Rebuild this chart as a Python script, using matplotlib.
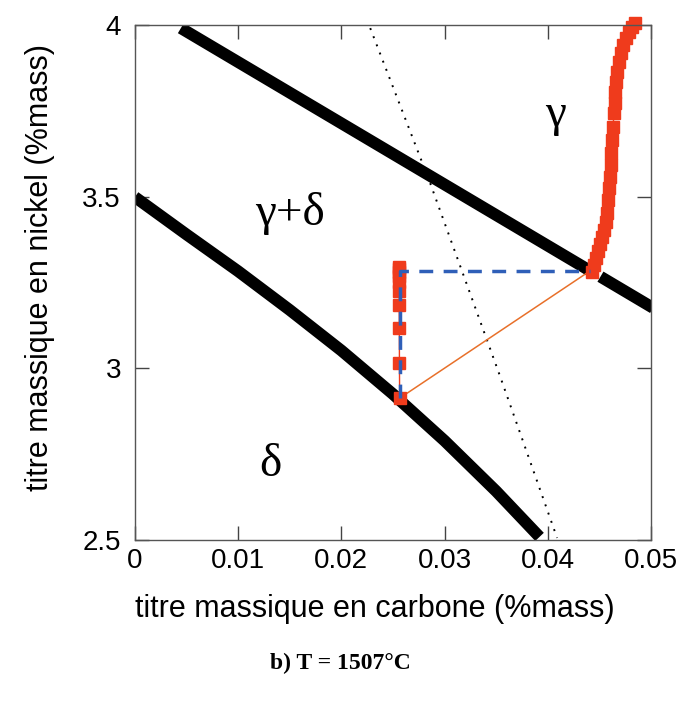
import matplotlib.pyplot as plt

# limites de phase (frontieres epaisses)
haut_x = [0.00446, 0.0441]
haut_y = [3.991, 3.284]
haut2_x = [0.0451, 0.0502]
haut2_y = [3.267, 3.176]

bas_x = [0.0, 0.005, 0.010, 0.015, 0.020, 0.025, 0.030, 0.035, 0.0392]
bas_y = [3.499, 3.390, 3.283, 3.170, 3.052, 2.925, 2.789, 2.642, 2.509]

# ligne pointillee
pointille_x = [0.0228, 0.0286, 0.0354, 0.0409]
pointille_y = [3.991, 3.540, 2.975, 2.506]

# trajectoire delta (carres rouges, verticale)
delta_x = [0.02565, 0.02563, 0.02562, 0.02561, 0.02560, 0.02560, 0.02560, 0.02560, 0.02560, 0.02560]
delta_y = [2.913, 3.015, 3.117, 3.185, 3.225, 3.252, 3.270, 3.282, 3.290, 3.295]

# trajectoire gamma (carres rouges, a droite)
gamma_x = [0.04428, 0.04448, 0.04467, 0.04486, 0.04506, 0.04525, 0.04545, 0.04564,
           0.04574, 0.04583, 0.04593, 0.04603, 0.04612, 0.04612, 0.04622, 0.04632,
           0.04641, 0.04651, 0.04651, 0.04661, 0.04671, 0.04690, 0.04709, 0.04729,
           0.04758, 0.04787, 0.04816, 0.04845]
gamma_y = [3.281, 3.301, 3.321, 3.342, 3.362, 3.383, 3.403, 3.426,
           3.452, 3.490, 3.525, 3.557, 3.592, 3.627, 3.665, 3.703,
           3.744, 3.773, 3.805, 3.834, 3.863, 3.892, 3.918, 3.942,
           3.962, 3.980, 3.994, 4.006]

# conode et chemin en tirets
conode_x = [0.02565, 0.0441]
conode_y = [2.913, 3.284]
tirets_x = [0.02565, 0.02565, 0.0441]
tirets_y = [2.913, 3.283, 3.283]

fig = plt.figure(figsize=(6.81, 7.01), dpi=100)
ax = fig.add_axes([0.198, 0.2297, 0.758, 0.7346])

ax.plot(haut_x, haut_y, color="black", lw=8.5, solid_capstyle="butt")
ax.plot(haut2_x, haut2_y, color="black", lw=8.5, solid_capstyle="butt")
ax.plot(bas_x, bas_y, color="black", lw=8.5, solid_capstyle="butt")
ax.plot(pointille_x, pointille_y, color="black", lw=1.4, linestyle=(0, (1, 3.5)))
ax.plot(conode_x, conode_y, color="#e8702a", lw=1.1)
ax.plot(delta_x, delta_y, "-s", color="#ef3b1c", ms=8.5, lw=1, clip_on=False)
ax.plot(gamma_x, gamma_y, "-s", color="#ef3b1c", ms=8.5, lw=1, clip_on=False)
ax.plot(tirets_x, tirets_y, color="#2f5fb8", lw=2.5, linestyle=(0, (4, 3)))

serif = "Liberation Serif"
ax.text(0.0407, 3.74, "γ", fontsize=34, family=serif, ha="center", va="center")
ax.text(0.0150, 3.45, "γ+δ", fontsize=34, family=serif, ha="center", va="center")
ax.text(0.0131, 2.72, "δ", fontsize=34, family=serif, ha="center", va="center")

ax.set_xlim(0, 0.05)
ax.set_ylim(2.5, 4)
ax.set_xticks([0, 0.01, 0.02, 0.03, 0.04, 0.05])
ax.set_xticklabels(["0", "0.01", "0.02", "0.03", "0.04", "0.05"])
ax.set_yticks([2.5, 3, 3.5, 4])
ax.set_yticklabels(["2.5", "3", "3.5", "4"])
ax.tick_params(direction="in", length=10, width=1, top=True, right=True,
               labelsize=20, colors="#444444", labelcolor="black")
ax.tick_params(axis="x", pad=6)
ax.tick_params(axis="y", pad=10)
for lab in ax.get_xticklabels() + ax.get_yticklabels():
    lab.set_family("Liberation Sans")
for s in ax.spines.values():
    s.set_color("#555555")
    s.set_linewidth(1)

ax.set_xlabel("titre massique en carbone (%mass)", fontsize=22, family="Liberation Sans")
ax.set_ylabel("titre massique en nickel (%mass)", fontsize=22, family="Liberation Sans")
ax.xaxis.set_label_coords(0.464, -0.105)
ax.yaxis.set_label_coords(-0.155, 0.53)

fig.text(0.5, 0.054, "b) T = 1507°C", fontsize=17, family=serif, weight="bold",
         ha="center", va="center")

fig.savefig("out.png", dpi=100)
